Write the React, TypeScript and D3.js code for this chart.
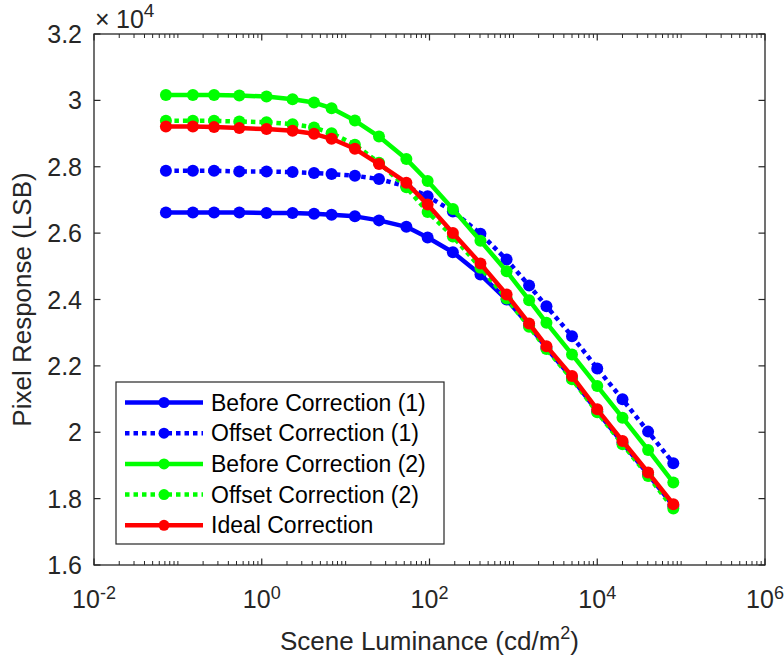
import React from "react";
import * as d3 from "d3";

const luminance = [0.072, 0.151, 0.27, 0.54, 1.14, 2.33, 4.2, 6.8, 12.9, 25, 53, 95, 190, 405, 830, 1540, 2480, 5000, 10000, 20000, 40400, 80700];

const beforeCorr1 = [26625, 26625, 26625, 26625, 26605, 26605, 26586, 26556, 26505, 26384, 26190, 25870, 25422, 24751, 23999, 23220, 22540, 21630, 20630, 19680, 18730, 17780];
const offsetCorr1 = [27879, 27879, 27879, 27859, 27859, 27839, 27809, 27779, 27729, 27629, 27407, 27110, 26655, 25984, 25202, 24420, 23797, 22895, 21923, 20991, 20019, 19066];
const beforeCorr2 = [30165, 30165, 30165, 30145, 30115, 30036, 29934, 29765, 29392, 28911, 28231, 27570, 26727, 25773, 24850, 23978, 23297, 22344, 21391, 20440, 19466, 18485];
const offsetCorr2 = [29383, 29383, 29383, 29362, 29344, 29284, 29182, 29013, 28661, 28120, 27380, 26640, 25900, 24960, 24030, 23180, 22510, 21600, 20600, 19640, 18680, 17700];
const idealCorr = [29212, 29212, 29194, 29164, 29134, 29082, 28992, 28842, 28541, 28081, 27520, 26860, 26005, 25082, 24149, 23277, 22594, 21692, 20690, 19736, 18786, 17832];

const seriesNames = ["Before Correction (1)", "Offset Correction (1)", "Before Correction (2)", "Offset Correction (2)", "Ideal Correction"];
const seriesColors = ["#0000ff", "#0000ff", "#00ff00", "#00ff00", "#ff0000"];
const seriesDotted = [false, true, false, true, false];
const seriesValues = [beforeCorr1, offsetCorr1, beforeCorr2, offsetCorr2, idealCorr];

const yTicks = [16000, 18000, 20000, 22000, 24000, 26000, 28000, 30000, 32000];
const yTickLabels = ["1.6", "1.8", "2", "2.2", "2.4", "2.6", "2.8", "3", "3.2"];
const xTickExps = [-2, 0, 2, 4, 6];

const W = 784, H = 659;
const L = 94, R = 765, T = 34, B = 565;
const AX = "#262626";
const FONT = "'Liberation Sans', Arial, Helvetica, sans-serif";

export default function App() {
  const x = d3.scaleLog().domain([1e-2, 1e6]).range([L, R]);
  const y = d3.scaleLinear().domain([16000, 32000]).range([B, T]);
  const line = d3.line<number>().x((_, i) => x(luminance[i])).y((d) => y(d));

  const minor: number[] = [];
  for (let e = -2; e < 6; e++) {
    for (let k = 1; k <= 9; k++) {
      const v = k * Math.pow(10, e);
      if (k === 1 && e % 2 === 0) continue;
      minor.push(v);
    }
  }

  const legX = 116, legY = 382, legW = 328, legH = 162;
  const rowY = (i: number) => 402.5 + i * 30.7;

  return (
    <svg width={W} height={H} style={{ position: "absolute", left: 0, top: 0, background: "#fff" }} fontFamily={FONT}>
      <rect x={0} y={0} width={W} height={H} fill="#fff" />
      <defs>
        <clipPath id="plotclip">
          <rect x={L} y={T} width={R - L} height={B - T} />
        </clipPath>
      </defs>
      {/* series */}
      <g clipPath="url(#plotclip)">
        {seriesValues.map((vals, si) => (
          <g key={si}>
            <path d={line(vals) || ""} fill="none" stroke={seriesColors[si]} strokeWidth={4.5}
              strokeDasharray={seriesDotted[si] ? "4.5 4" : undefined} strokeLinejoin="round" />
            {vals.map((v, i) => (
              <circle key={i} cx={x(luminance[i])} cy={y(v)} r={6} fill={seriesColors[si]} />
            ))}
          </g>
        ))}
      </g>
      {/* axes box */}
      <rect x={L} y={T} width={R - L} height={B - T} fill="none" stroke={AX} strokeWidth={1.3} />
      {/* y ticks */}
      {yTicks.map((t, i) => (
        <g key={"y" + i}>
          <line x1={L} x2={L + 6.5} y1={y(t)} y2={y(t)} stroke={AX} strokeWidth={1.2} />
          <line x1={R} x2={R - 6.5} y1={y(t)} y2={y(t)} stroke={AX} strokeWidth={1.2} />
          <text x={82} y={y(t)} dy="0.36em" textAnchor="end" fontSize={25} fill={AX}>{yTickLabels[i]}</text>
        </g>
      ))}
      {/* x ticks */}
      {xTickExps.map((e) => {
        const px = x(Math.pow(10, e));
        return (
          <g key={"x" + e}>
            <line x1={px} x2={px} y1={B} y2={B - 6.5} stroke={AX} strokeWidth={1.2} />
            <line x1={px} x2={px} y1={T} y2={T + 6.5} stroke={AX} strokeWidth={1.2} />
            <text x={px} y={608} textAnchor="middle" fontSize={25} fill={AX}>
              10<tspan dy={-9} fontSize={18}>{e}</tspan>
            </text>
          </g>
        );
      })}
      {minor.map((v, i) => (
        <g key={"m" + i}>
          <line x1={x(v)} x2={x(v)} y1={B} y2={B - 4} stroke={AX} strokeWidth={1} />
          <line x1={x(v)} x2={x(v)} y1={T} y2={T + 4} stroke={AX} strokeWidth={1} />
        </g>
      ))}
      {/* exponent */}
      <text x={95} y={28} fontSize={25} fill={AX}>×</text>
      <text x={116} y={28} fontSize={25} fill={AX}>
        10<tspan dy={-11} fontSize={19}>4</tspan>
      </text>
      {/* axis labels */}
      <text x={(L + R) / 2} y={650} textAnchor="middle" fontSize={26} fill={AX}>
        Scene Luminance (cd/m<tspan dy={-11} fontSize={18}>2</tspan><tspan dy={11}>)</tspan>
      </text>
      <text transform={`translate(31, ${(T + B) / 2}) rotate(-90)`} textAnchor="middle" fontSize={26} fill={AX}>
        Pixel Response (LSB)
      </text>
      {/* legend */}
      <rect x={legX} y={legY} width={legW} height={legH} fill="#fff" stroke={AX} strokeWidth={1.2} />
      {seriesNames.map((n, i) => (
        <g key={"l" + i}>
          <line x1={125} x2={203} y1={rowY(i)} y2={rowY(i)} stroke={seriesColors[i]} strokeWidth={4.5}
            strokeDasharray={seriesDotted[i] ? "4.5 4" : undefined} />
          <circle cx={164} cy={rowY(i)} r={5.5} fill={seriesColors[i]} />
          <text x={211} y={rowY(i)} dy="0.35em" fontSize={23} fill="#000">{n}</text>
        </g>
      ))}
    </svg>
  );
}
